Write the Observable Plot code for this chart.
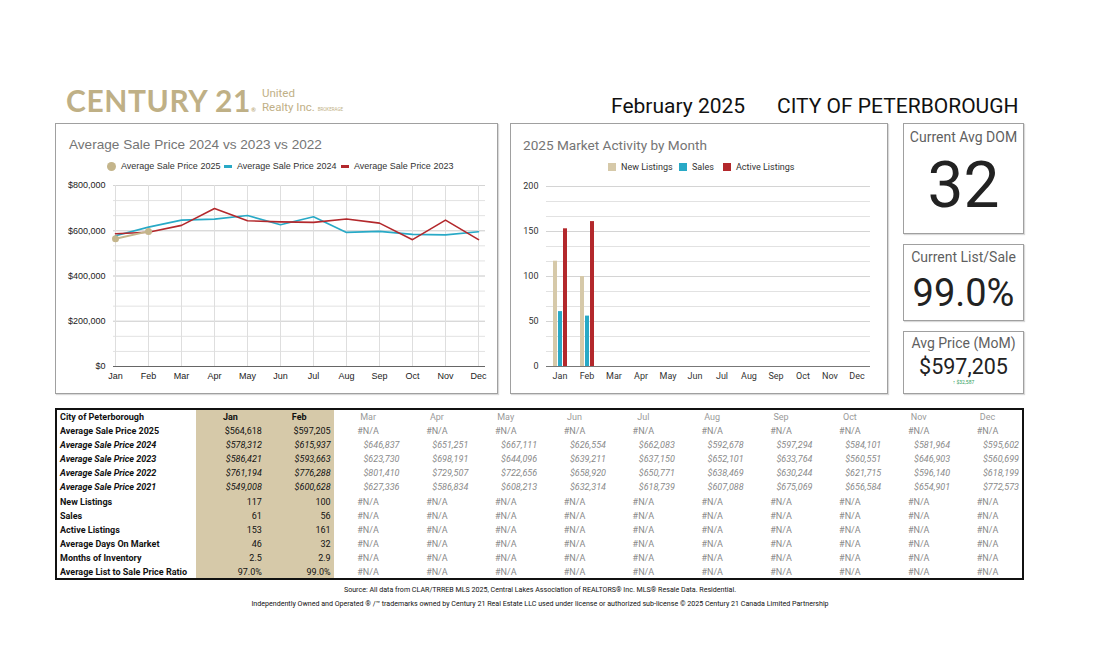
<!DOCTYPE html>
<html><head><meta charset="utf-8">
<script src="https://cdn.jsdelivr.net/npm/d3@7"></script>
<script src="https://cdn.jsdelivr.net/npm/@observablehq/plot@0.6"></script>
<style>
body{margin:0;background:#fff;width:1100px;height:668px;position:relative;font-family:Roboto,sans-serif;overflow:hidden}
.abs{position:absolute}
.panel{position:absolute;border:1px solid #a0a0a0;box-shadow:1px 1px 1px rgba(0,0,0,0.15);background:#fff;box-sizing:border-box}
.ptitle{position:absolute;font-size:13.6px;color:#757575;white-space:nowrap}
.leg{position:absolute;font-size:9px;color:#333;white-space:nowrap;display:flex;align-items:center}
.kpi{position:absolute;left:903px;width:121px;border:1px solid #a0a0a0;box-shadow:1px 1px 1px rgba(0,0,0,0.15);box-sizing:border-box;text-align:center;color:#222}
.kt{position:absolute;left:0;right:0;font-size:14px;color:#5f5f5f;white-space:nowrap}
.kv{position:absolute;left:0;right:0;white-space:nowrap;color:#222}
table{border-collapse:collapse;table-layout:fixed;font-size:9px;font-family:Roboto,sans-serif}
td{height:14.1px;padding:0 3px;white-space:nowrap;overflow:hidden;line-height:14.1px}
.foot{position:absolute;left:0;width:1080px;text-align:center;font-size:7.1px;color:#111;white-space:nowrap}
.sub{position:absolute;left:262px;font-family:Roboto,sans-serif;font-size:11.5px;line-height:13px;height:13px;color:#bfb086;white-space:nowrap}
</style></head><body>

<div class="abs" style="left:66px;top:82px;font-family:Lato,sans-serif;font-weight:700;font-size:30px;letter-spacing:0.6px;color:#bfb086;white-space:nowrap">CENTURY 21<span style="font-size:6px;letter-spacing:0;vertical-align:baseline">®</span></div>
<div class="sub" style="top:87px">United</div>
<div class="sub" style="top:100.5px">Realty Inc. <span style="font-size:4.5px">BROKERAGE</span></div>
<div class="abs" id="hdrMonth" style="left:611px;top:94px;font-size:21px;color:#111;white-space:nowrap"></div>
<div class="abs" id="hdrCity" style="left:777px;top:94px;font-size:21px;color:#111;white-space:nowrap"></div>

<div class="panel" style="left:55px;top:123px;width:443px;height:271px"></div>
<div class="ptitle" id="t1" style="left:69px;top:137px;font-family:'Liberation Sans',Arial,sans-serif"></div>
<div id="leg1"></div>
<div class="abs" id="chart1" style="left:55px;top:175px"></div>

<div class="panel" style="left:510px;top:123px;width:378px;height:271px"></div>
<div class="ptitle" id="t2" style="left:523px;top:137px"></div>
<div id="leg2"></div>
<div class="abs" id="chart2" style="left:510px;top:176px"></div>

<div class="kpi" style="top:123px;height:111px"><div class="kt" style="top:5px">Current Avg DOM</div><div class="kv" id="kDom" style="top:24px;font-size:64px;line-height:76px"></div></div>
<div class="kpi" style="top:244px;height:77px"><div class="kt" style="top:4px">Current List/Sale</div><div class="kv" id="kLs" style="top:24px;font-size:38px;line-height:48px"></div></div>
<div class="kpi" style="top:331px;height:63px"><div class="kt" style="top:3px">Avg Price (MoM)</div><div class="kv" id="kAp" style="top:21px;font-size:21.5px;line-height:27px"></div><div class="kv" id="kCh" style="top:47px;font-size:5px;color:#2e9e5b"></div></div>

<div class="abs" id="tbl" style="left:55px;top:408px;width:969px;height:172px;border:2px solid #111;box-sizing:border-box;overflow:hidden"></div>

<div class="foot" id="f1" style="top:585px"></div>
<div class="foot" id="f2" style="top:599px"></div>

<script>
// ---------------- data ----------------
const reportMonth = "February 2025";
const city = "CITY OF PETERBOROUGH";
const tableCity = "City of Peterborough";
const months = ["Jan","Feb","Mar","Apr","May","Jun","Jul","Aug","Sep","Oct","Nov","Dec"];
const price2025 = [564618, 597205];
const price2024 = [578312, 615937, 646837, 651251, 667111, 626554, 662083, 592678, 597294, 584101, 581964, 595602];
const price2023 = [586421, 593663, 623730, 698191, 644096, 639211, 637150, 652101, 633764, 560551, 646903, 560699];
const price2022 = [761194, 776288, 801410, 729507, 722656, 658920, 650771, 638469, 630244, 621715, 596140, 618199];
const price2021 = [549008, 600628, 627336, 586834, 608213, 632314, 618739, 607088, 675069, 656584, 654901, 772573];
const newListings = [117, 100];
const sales = [61, 56];
const activeListings = [153, 161];
const avgDaysOnMarket = [46, 32];
const monthsOfInventory = [2.5, 2.9];
const listToSaleRatio = [0.970, 0.990];
const lineSeries = ["Average Sale Price 2025", "Average Sale Price 2024", "Average Sale Price 2023"];
const barSeries = ["New Listings", "Sales", "Active Listings"];
const priceTicks = [0, 200000, 400000, 600000, 800000];
const countTicks = [0, 50, 100, 150, 200];
const chart1Title = "Average Sale Price 2024 vs 2023 vs 2022";
const chart2Title = "2025 Market Activity by Month";
const sourceText = "Source: All data from CLAR/TRREB MLS 2025, Central Lakes Association of REALTORS\u00ae Inc. MLS\u00ae Resale Data. Residential.";
const legalText = "Independently Owned and Operated \u00ae /\u2122 trademarks owned by Century 21 Real Estate LLC used under license or authorized sub-license \u00a9 2025 Century 21 Canada Limited Partnership";

// ---------------- colours ----------------
const cTan = "#c4b58b", cTanBar = "#d6c9a9", cCyan = "#28a9c6", cRed = "#b3282c";

const fmtMoney = d3.format("$,");
document.getElementById("hdrMonth").textContent = reportMonth;
document.getElementById("hdrCity").textContent = city;
document.getElementById("t1").textContent = chart1Title;
document.getElementById("t2").textContent = chart2Title;
document.getElementById("f1").textContent = sourceText;
document.getElementById("f2").textContent = legalText;

// ---------------- legends ----------------
function legend(el, items, top, font) {
  const c = document.getElementById(el);
  items.forEach(it => {
    const d = document.createElement("div");
    d.className = "leg";
    d.style.left = it.left + "px"; d.style.top = top + "px"; d.style.fontFamily = font;
    const sw = document.createElement("span");
    sw.style.display = "inline-block"; sw.style.marginRight = "5px"; sw.style.background = it.color;
    if (it.shape === "circle") { sw.style.width = "9px"; sw.style.height = "9px"; sw.style.borderRadius = "50%"; }
    else if (it.shape === "dash") { sw.style.width = "8px"; sw.style.height = "3px"; }
    else { sw.style.width = "8px"; sw.style.height = "8px"; }
    d.appendChild(sw);
    d.appendChild(document.createTextNode(it.label));
    c.appendChild(d);
  });
}
legend("leg1", [
  {label: lineSeries[0], color: cTan, shape: "circle", left: 107},
  {label: lineSeries[1], color: cCyan, shape: "dash", left: 224},
  {label: lineSeries[2], color: cRed, shape: "dash", left: 341}
], 161, "'Liberation Sans',Arial,sans-serif");
legend("leg2", [
  {label: barSeries[0], color: cTanBar, shape: "square", left: 608},
  {label: barSeries[1], color: cCyan, shape: "square", left: 679},
  {label: barSeries[2], color: cRed, shape: "square", left: 723}
], 162, "Roboto,sans-serif");

// ---------------- chart 1: lines ----------------
const toRows = (arr, s) => arr.map((v, i) => ({month: months[i], value: v, series: s}));
const d2025 = toRows(price2025, lineSeries[0]);
const d2024 = toRows(price2024, lineSeries[1]);
const d2023 = toRows(price2023, lineSeries[2]);
const priceGrid = d3.range(0, priceTicks[priceTicks.length - 1] + 1, (priceTicks[1] - priceTicks[0]) / 3);

const chart1 = Plot.plot({
  width: 440, height: 211,
  marginLeft: 58, marginRight: 10, marginTop: 10, marginBottom: 20,
  style: {fontFamily: "'Liberation Sans',Arial,sans-serif", fontSize: "9px", color: "#222", background: "transparent", overflow: "visible"},
  x: {type: "point", domain: months, padding: 0, label: null, tickSize: 0, tickPadding: 6, insetRight: 5},
  y: {domain: [0, 800000], ticks: priceTicks, tickFormat: fmtMoney, tickSize: 0, tickPadding: 8, label: null},
  marks: [
    Plot.ruleY(priceGrid, {stroke: "#e2e2e2"}),
    Plot.ruleY(priceTicks, {stroke: "#d4d4d4"}),
    Plot.ruleX(months, {stroke: "#dedede"}),
    Plot.ruleY([0], {stroke: "#666"}),
    Plot.line(d2024, {x: "month", y: "value", stroke: cCyan, strokeWidth: 1.6}),
    Plot.line(d2023, {x: "month", y: "value", stroke: cRed, strokeWidth: 1.6}),
    Plot.line(d2025, {x: "month", y: "value", stroke: cTan, strokeWidth: 2}),
    Plot.dot(d2025, {x: "month", y: "value", fill: cTan, r: 3.5})
  ]
});
document.getElementById("chart1").appendChild(chart1);

// ---------------- chart 2: grouped bars ----------------
const barValues = [newListings, sales, activeListings];
const barData = months.flatMap((m, i) => barSeries.map((s, k) => ({month: m, series: s, value: i < barValues[k].length ? barValues[k][i] : null})));
const countGrid = d3.range(0, countTicks[countTicks.length - 1] + 0.1, (countTicks[1] - countTicks[0]) / 3);

const chart2 = Plot.plot({
  width: 376, height: 210,
  marginLeft: 30, marginRight: 10.2, marginTop: 10, marginBottom: 20,
  style: {fontFamily: "Roboto,sans-serif", fontSize: "9px", color: "#333", background: "transparent", overflow: "visible"},
  facet: {data: barData, x: "month", marginTop: 0, marginBottom: 0, marginLeft: 0, marginRight: 0},
  fx: {domain: months, padding: 0, axis: "bottom", tickSize: 0, tickPadding: 6, label: null},
  x: {domain: barSeries, paddingInner: 0.2, paddingOuter: 0.9, axis: null},
  y: {domain: [0, 200], ticks: countTicks, tickSize: 0, tickPadding: 8, label: null},
  color: {domain: barSeries, range: [cTanBar, cCyan, cRed]},
  marks: [
    Plot.ruleY(countGrid, {stroke: "#e2e2e2"}),
    Plot.ruleY(countTicks, {stroke: "#d4d4d4"}),
    Plot.barY(barData, {x: "series", y: "value", fill: "series"}),
    Plot.ruleY([0], {stroke: "#777"})
  ]
});
document.getElementById("chart2").appendChild(chart2);

// ---------------- KPI boxes ----------------
const last = price2025.length - 1;
document.getElementById("kDom").textContent = avgDaysOnMarket[avgDaysOnMarket.length - 1];
document.getElementById("kLs").textContent = d3.format(".1%")(listToSaleRatio[listToSaleRatio.length - 1]);
document.getElementById("kAp").textContent = fmtMoney(price2025[last]);
document.getElementById("kCh").textContent = "\u2191 " + fmtMoney(price2025[last] - price2025[last - 1]);

// ---------------- table ----------------
const rows = [
  {label: "Average Sale Price 2025", vals: price2025, fmt: fmtMoney, italic: false},
  {label: "Average Sale Price 2024", vals: price2024, fmt: fmtMoney, italic: true},
  {label: "Average Sale Price 2023", vals: price2023, fmt: fmtMoney, italic: true},
  {label: "Average Sale Price 2022", vals: price2022, fmt: fmtMoney, italic: true},
  {label: "Average Sale Price 2021", vals: price2021, fmt: fmtMoney, italic: true},
  {label: "New Listings", vals: newListings, fmt: String, italic: false},
  {label: "Sales", vals: sales, fmt: String, italic: false},
  {label: "Active Listings", vals: activeListings, fmt: String, italic: false},
  {label: "Average Days On Market", vals: avgDaysOnMarket, fmt: String, italic: false},
  {label: "Months of Inventory", vals: monthsOfInventory, fmt: d3.format(".1f"), italic: false},
  {label: "Average List to Sale Price Ratio", vals: listToSaleRatio, fmt: d3.format(".1%"), italic: false}
];
const cur = price2025.length; // months with current data
let html = '<table style="width:965px"><colgroup><col style="width:139px">' + months.map(() => '<col style="width:68.83px">').join("") + '</colgroup>';
html += '<tr><td style="font-weight:700;color:#111">' + tableCity + '</td>' + months.map((m, i) =>
  `<td style="text-align:center;font-weight:${i < cur ? 700 : 400};color:${i < cur ? "#111" : "#9a9a9a"};${i < cur ? "background:" + cTanBar : ""}">${m}</td>`).join("") + '</tr>';
rows.forEach(r => {
  html += `<tr><td style="font-weight:700;color:#111;${r.italic ? "font-style:italic" : ""}">${r.label}</td>`;
  months.forEach((m, i) => {
    const v = r.vals[i];
    const bg = i < cur ? "background:" + cTanBar + ";" : "";
    if (v === undefined) {
      html += `<td style="${bg}text-align:center;color:#8a8a8a">#N/A</td>`;
    } else {
      const col = i < cur ? "#111" : "#8a8a8a";
      html += `<td style="${bg}text-align:right;color:${col};${r.italic ? "font-style:italic" : ""}">${r.fmt(v)}</td>`;
    }
  });
  html += '</tr>';
});
html += '</table>';
document.getElementById("tbl").innerHTML = html;
</script>
</body></html>
